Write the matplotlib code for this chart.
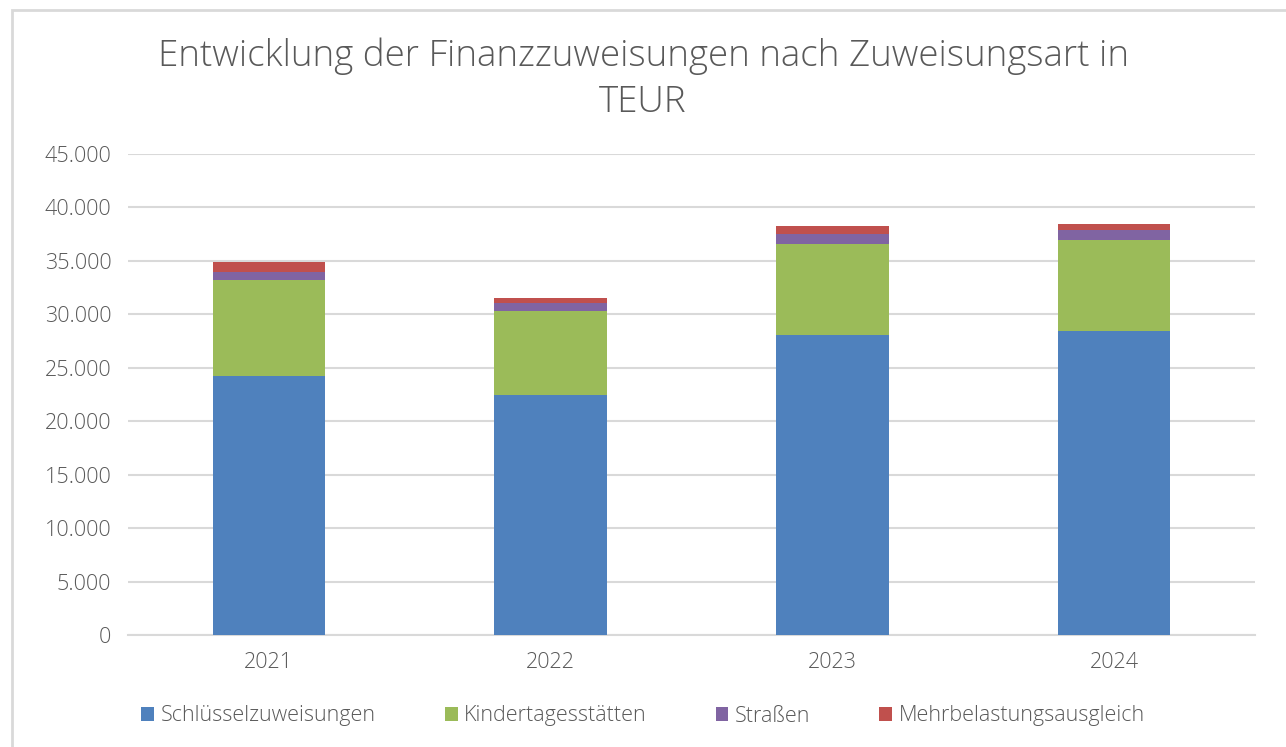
import numpy as np
import matplotlib.pyplot as plt
from matplotlib.patches import Rectangle
from matplotlib.ticker import FuncFormatter

jahre = ['2021', '2022', '2023', '2024']
schluessel = [24260, 22450, 28070, 28440]
kita = [8950, 7890, 8490, 8490]
strassen = [750, 750, 935, 935]
mehrbelastung = [935, 470, 750, 620]

serien = [
    ('Schlüsselzuweisungen', schluessel, '#4F81BD'),
    ('Kindertagesstätten', kita, '#9BBB59'),
    ('Straßen', strassen, '#8064A2'),
    ('Mehrbelastungsausgleich', mehrbelastung, '#C0504D'),
]

plt.rcParams['font.family'] = ['Open Sans', 'DejaVu Sans']
plt.rcParams['font.weight'] = 'light'
grau = '#595959'

fig = plt.figure(figsize=(12.86, 7.47), dpi=100)
ax = fig.add_axes([128 / 1286, 1 - 635 / 747, 1127 / 1286, 481 / 747])

# chart border
fig.patches.append(Rectangle((12 / 1286, -0.01), 1.1, 1 - 10 / 747 + 0.01,
                             transform=fig.transFigure, fill=False,
                             edgecolor='#D9D9D9', linewidth=2))

x = np.arange(len(jahre))
unten = np.zeros(len(jahre))
for name, werte, farbe in serien:
    ax.bar(x, werte, 0.4, bottom=unten, color=farbe, label=name, zorder=3)
    unten += np.array(werte)

ax.set_xlim(-0.5, 3.5)
ax.set_ylim(0, 45000)
ax.set_yticks(np.arange(0, 45001, 5000))
ax.yaxis.set_major_formatter(FuncFormatter(lambda v, p: f'{int(v):,}'.replace(',', '.')))
ax.set_xticks(x)
ax.set_xticklabels(jahre)
ax.grid(axis='y', color='#D9D9D9', linewidth=1.5, zorder=0)
for s in ['top', 'right', 'left']:
    ax.spines[s].set_visible(False)
ax.spines['bottom'].set_color('#D9D9D9')
ax.spines['bottom'].set_linewidth(1.5)
ax.tick_params(axis='both', length=0, labelsize=15.5, colors=grau, pad=12)
ax.tick_params(axis='y', pad=12)

fig.text(0.5, 1 - 79 / 747, 'Entwicklung der Finanzzuweisungen nach Zuweisungsart in\nTEUR',
         ha='center', va='center', fontsize=26.5, color=grau, linespacing=1.33)

fig.legend(loc='center', bbox_to_anchor=(0.5, 1 - 716 / 747), ncol=4, frameon=False,
           fontsize=15.5, labelcolor=grau, handlelength=0.6, handleheight=0.6,
           handletextpad=0.3, columnspacing=3.2)

fig.savefig('out.png', dpi=100)
